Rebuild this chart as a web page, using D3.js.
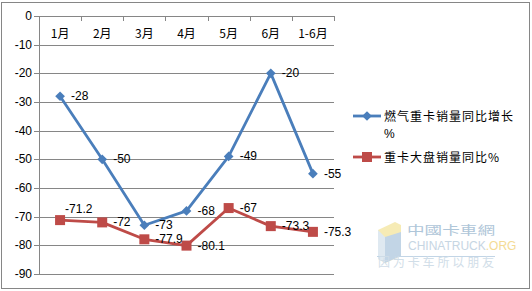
<!DOCTYPE html>
<html>
<head>
<meta charset="utf-8">
<script src="https://cdn.jsdelivr.net/npm/d3@7"></script>
<style>
  html, body { margin: 0; padding: 0; background: #fff; }
  svg { display: block; }
  text { font-family: "Liberation Sans", Arial, "Noto Sans CJK SC", sans-serif; font-size: 12px; fill: #000; }
  .cjk { font-family: "Noto Sans CJK SC", "Liberation Sans", sans-serif; }
</style>
</head>
<body>
<svg id="chart" width="532" height="291"></svg>
<script>
// months along the top axis
const CATEGORIES = ["1月", "2月", "3月", "4月", "5月", "6月", "1-6月"];
// gas heavy trucks vs whole heavy-truck market, YoY %
const GAS_YOY = [-28, -50, -73, -68, -49, -20, -55];
const MARKET_YOY = [-71.2, -72, -77.9, -80.1, -67, -73.3, -75.3];
const Y_TICKS = [0, -10, -20, -30, -40, -50, -60, -70, -80, -90];
const SERIES_NAMES = ["燃气重卡销量同比增长%", "重卡大盘销量同比%"];

const svg = d3.select("#chart");

// chart frame
svg.append("rect")
  .attr("x", 1.5).attr("y", 2.5).attr("width", 528).attr("height", 286)
  .attr("fill", "#fff").attr("stroke", "#868686").attr("stroke-width", 1);

const plot = { left: 39, right: 334, top: 16, bottom: 274 };

const x = d3.scaleBand().domain(CATEGORIES).range([plot.left, plot.right]);
const y = d3.scaleLinear().domain([-90, 0]).range([plot.bottom, plot.top]);
const cx = (c) => x(c) + x.bandwidth() / 2;

// faint site watermark (behind the plot)
const wm = svg.append("g").attr("transform", "translate(377,222)").attr("opacity", 0.8);
wm.append("path").attr("d", "M1,8 L18,0 L24,3 L24,34 L8,41 L1,37 Z").attr("fill", "#f5e7a3");
wm.append("path").attr("d", "M8,15 L24,10 L24,34 L8,41 Z").attr("fill", "#b3cbe0");
wm.append("path").attr("d", "M1,8 L8,15 L8,41 L1,37 Z").attr("fill", "#d8e4ee");
wm.append("text").attr("class", "cjk").attr("x", 30).attr("y", 13)
  .attr("font-size", 14).attr("textLength", 88).attr("lengthAdjust", "spacingAndGlyphs")
  .style("fill", "#9cb8d0").text("中國卡車網");
const brand = wm.append("text").attr("x", 31).attr("y", 28)
  .attr("font-size", 8.5);
brand.append("tspan").style("fill", "#b9ccdc").text("CHINATRUCK");
brand.append("tspan").style("fill", "#f2d27a").text(".ORG");
wm.append("line").attr("x1", 0).attr("x2", 118).attr("y1", 34.5).attr("y2", 34.5).attr("stroke", "#b3cbe0");
wm.append("text").attr("class", "cjk").attr("x", 1).attr("y", 45)
  .attr("font-size", 6).attr("textLength", 116).attr("lengthAdjust", "spacing")
  .style("fill", "#c6d6e3").text("因为卡车所以朋友");

// gridlines
svg.append("g")
  .selectAll("line")
  .data(Y_TICKS)
  .join("line")
  .attr("x1", plot.left - 5).attr("x2", plot.right)
  .attr("y1", (d) => Math.round(y(d)) + 0.5).attr("y2", (d) => Math.round(y(d)) + 0.5)
  .attr("stroke", "#868686").attr("stroke-width", 1);

// y axis line
svg.append("line")
  .attr("x1", plot.left + 0.5).attr("x2", plot.left + 0.5)
  .attr("y1", plot.top).attr("y2", plot.bottom + 0.5)
  .attr("stroke", "#868686");

// y labels
svg.append("g")
  .selectAll("text")
  .data(Y_TICKS)
  .join("text")
  .attr("x", 32).attr("y", (d) => y(d) + 4)
  .attr("text-anchor", "end")
  .text((d) => d);

// x axis crosses at 0 (top): ticks and labels below it
const tickXs = CATEGORIES.map((c) => x(c)).concat([plot.right]);
svg.append("g")
  .selectAll("line")
  .data(tickXs)
  .join("line")
  .attr("x1", (d) => Math.round(d) + 0.5).attr("x2", (d) => Math.round(d) + 0.5)
  .attr("y1", y(0)).attr("y2", y(0) + 5)
  .attr("stroke", "#868686");

svg.append("g")
  .selectAll("text")
  .data(CATEGORIES)
  .join("text")
  .attr("class", "cjk")
  .attr("x", (d) => cx(d)).attr("y", 38)
  .attr("text-anchor", "middle")
  .text((d) => d);

const line = d3.line().x((d, i) => cx(CATEGORIES[i])).y((d) => y(d));

const BLUE = "#4A7EBB", RED = "#BE4B48";

// market series
svg.append("path").datum(MARKET_YOY)
  .attr("d", line).attr("fill", "none").attr("stroke", RED)
  .attr("stroke-width", 2.8).attr("stroke-linejoin", "round");
svg.append("g").selectAll("rect").data(MARKET_YOY).join("rect")
  .attr("x", (d, i) => cx(CATEGORIES[i]) - 5).attr("y", (d) => y(d) - 5)
  .attr("width", 10).attr("height", 10).attr("fill", RED);

// gas series
svg.append("path").datum(GAS_YOY)
  .attr("d", line).attr("fill", "none").attr("stroke", BLUE)
  .attr("stroke-width", 2.8).attr("stroke-linejoin", "round");
svg.append("g").selectAll("path").data(GAS_YOY).join("path")
  .attr("d", d3.symbol(d3.symbolDiamond2, 60))
  .attr("transform", (d, i) => `translate(${cx(CATEGORIES[i])},${y(d)})`)
  .attr("fill", BLUE);

// data labels, to the right of each point
const labelOffset = (series, i) => (series === "m" && i === 0 ? [5, -7] : [11, 4]);
svg.append("g").selectAll("text").data(GAS_YOY).join("text")
  .attr("x", (d, i) => cx(CATEGORIES[i]) + labelOffset("g", i)[0])
  .attr("y", (d, i) => y(d) + labelOffset("g", i)[1])
  .text((d) => d);
svg.append("g").selectAll("text").data(MARKET_YOY).join("text")
  .attr("x", (d, i) => cx(CATEGORIES[i]) + labelOffset("m", i)[0])
  .attr("y", (d, i) => y(d) + labelOffset("m", i)[1])
  .text((d) => d);

// legend
const legend = svg.append("g").attr("transform", "translate(353,116)");
legend.append("line").attr("x1", 0).attr("x2", 28).attr("stroke", BLUE).attr("stroke-width", 2.8);
legend.append("path").attr("d", d3.symbol(d3.symbolDiamond2, 60)).attr("transform", "translate(14,0)").attr("fill", BLUE);
legend.append("text").attr("class", "cjk").attr("x", 31).attr("y", 5)
  .attr("letter-spacing", 1).text(SERIES_NAMES[0].slice(0, -1));
legend.append("text").attr("x", 31).attr("y", 22).text("%");
legend.append("line").attr("x1", 0).attr("x2", 28).attr("y1", 41).attr("y2", 41).attr("stroke", RED).attr("stroke-width", 2.8);
legend.append("rect").attr("x", 9).attr("y", 36).attr("width", 10).attr("height", 10).attr("fill", RED);
legend.append("text").attr("class", "cjk").attr("x", 31).attr("y", 46)
  .attr("letter-spacing", 1).text(SERIES_NAMES[1]);
</script>
</body>
</html>
